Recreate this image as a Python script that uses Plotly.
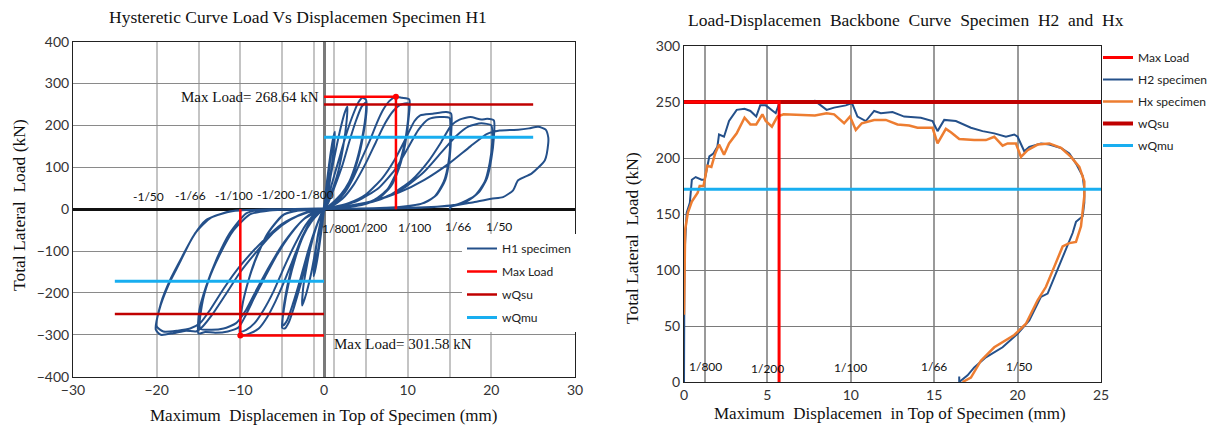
import plotly.graph_objects as go

# ---------------- H1 hysteretic data (displacement mm, load kN) -------------
lvl1_x = [0, 0.2, 0.5, 0.8, 1.1, 1.3, 1.2, 0.9, 0.5, 0.2, 0, -0.2, -0.5, -0.8, -1.1, -1.25, -1.1, -0.8, -0.4, -0.1,
          0.1, 0.4, 0.7, 1.0, 1.25, 1.15, 0.8, 0.4, 0.1, -0.2, -0.5, -0.9, -1.2, -1.1, -0.7, -0.3, 0]
lvl1_y = [0, 40, 90, 135, 170, 185, 150, 100, 45, 10, -5, -35, -80, -120, -150, -160, -120, -70, -30, -5,
          20, 60, 110, 150, 175, 140, 80, 30, 5, -25, -70, -120, -150, -110, -60, -20, 0]

lvl2_x = [0.3, 0.8, 1.4, 2.0, 2.5, 2.8, 2.7, 2.3, 1.7, 1.0, 0.4, 0, -0.4, -0.9, -1.5, -2.1, -2.6, -2.5, -2.0, -1.4,
          -0.8, -0.3, 0]
lvl2_y = [25, 80, 140, 195, 232, 245, 210, 150, 90, 45, 15, 0, -30, -85, -150, -200, -230, -190, -130, -75,
          -35, -10, 5]

lvl3_x = [0.4, 1.0, 1.8, 2.6, 3.4, 4.1, 4.6, 5.0, 5.1, 4.8, 4.2, 3.4, 2.4, 1.4, 0.6, 0, -0.5, -1.2, -2.0, -2.8,
          -3.6, -4.2, -4.7, -5.0, -4.8, -4.2, -3.4, -2.5, -1.5, -0.6, 0,
          0.5, 1.3, 2.2, 3.0, 3.8, 4.5, 5.0, 5.0, 4.6, 3.9, 3.0, 2.0, 1.0, 0.3, -0.3, -1.0, -1.9, -2.8, -3.7,
          -4.4, -4.9, -4.9, -4.4, -3.6, -2.6, -1.5, -0.6, 0]
lvl3_y = [20, 65, 120, 175, 222, 255, 266, 262, 240, 190, 130, 80, 45, 22, 8, 0, -20, -60, -120, -180,
          -235, -270, -285, -283, -240, -175, -115, -65, -30, -10, 0,
          15, 55, 105, 160, 210, 245, 255, 230, 175, 115, 65, 35, 15, 3, -12, -45, -100, -165, -225,
          -265, -278, -250, -185, -120, -65, -28, -8, 0]

lvl4_x = [0.5, 1.5, 2.5, 3.5, 4.5, 5.5, 6.3, 7.0, 7.8, 8.6, 9.3, 10.2,
          10.1, 9.7, 9.0, 8.0, 6.5, 4.5, 2.0, 0.0,
          -0.8, -1.8, -2.8, -3.8, -4.8, -5.8, -6.8, -7.8, -8.8, -10.0,
          -9.9, -9.3, -8.3, -6.8, -5.0, -3.5, 0.0,
          0.8, 2.2, 3.6, 5.0, 6.2, 7.3, 8.3, 9.2, 10.1,
          10.0, 9.5, 8.7, 7.6, 6.0, 4.0, 1.5, 0.0,
          -1.0, -2.2, -3.5, -4.8, -6.0, -7.2, -8.3, -9.3, -10.0,
          -9.8, -9.1, -8.0, -6.5, -4.8, -3.0, 0.0]
lvl4_y = [6, 18, 40, 75, 120, 165, 205, 235, 258, 268.64, 266, 262,
          215, 155, 100, 55, 25, 10, 3, 0,
          -10, -35, -75, -125, -175, -220, -258, -285, -296, -301.58,
          -245, -190, -125, -60, -15, -4, 0,
          6, 25, 60, 110, 160, 205, 235, 250, 252,
          205, 145, 90, 48, 22, 8, 2, 0,
          -10, -38, -85, -140, -195, -240, -272, -288, -292,
          -235, -175, -112, -52, -13, -3, 0]

lvl5_x = [0.0, 1.0, 3.0, 5.0, 7.0, 8.5, 9.8, 10.8, 11.5, 13.0, 14.6, 15.2,
          15.2, 15.0, 14.5, 13.5, 12.0, 9.0, 4.0, 0.0,
          -1.0, -2.5, -4.0, -5.5, -7.0, -8.3, -9.4, -10.2, -11.5, -13.0, -14.2, -15.0,
          -14.9, -14.1, -12.9, -11.3, -9.3, -7.7, -4.0, 0.0,
          1.5, 4.0, 6.5, 8.5, 10.0, 11.3, 12.5, 13.8, 15.0,
          15.1, 14.9, 14.3, 13.2, 11.5, 8.0, 3.0, 0.0,
          -1.5, -3.0, -4.8, -6.5, -8.0, -9.3, -10.5, -12.0, -13.5, -14.8,
          -14.6, -13.8, -12.5, -10.8, -8.8, -6.5, -3.0, 0.0]
lvl5_y = [2, 5, 15, 35, 75, 120, 170, 210, 224, 228, 232, 228,
          180, 120, 70, 35, 15, 5, 1, 0,
          -8, -25, -60, -105, -160, -210, -255, -282, -292, -295, -293, -297,
          -241, -185, -122, -58, -10, -2, 0, 2,
          5, 20, 50, 95, 145, 190, 215, 220, 218,
          175, 115, 65, 30, 12, 4, 1, 0,
          -10, -35, -80, -135, -190, -240, -272, -285, -288, -285,
          -230, -170, -110, -50, -12, -3, 0, 2]

lvl6_x = [2.0, 5.0, 8.0, 10.5, 12.5, 14.0, 15.2, 16.2, 17.5, 18.8, 19.5, 20.3,
          20.3, 20.0, 19.5, 18.5, 17.0, 15.0, 10.0, 5.0, 0.0,
          -2.0, -4.0, -6.0, -8.0, -10.0, -11.8, -13.3, -14.5, -15.3, -16.5, -18.0, -19.5, -20.1,
          -19.7, -18.5, -17.3, -15.7, -14.1, -11.7, -10.5, -5.0, 0.0,
          3.0, 6.5, 9.5, 12.0, 14.0, 15.8, 17.3, 18.8, 20.0,
          20.1, 19.8, 19.2, 18.0, 16.0, 12.0, 6.0, 0.0,
          -2.5, -5.0, -7.5, -10.0, -12.0, -13.6, -14.8, -16.0, -17.5, -19.2, -20.0,
          -19.5, -18.3, -17.0, -15.3, -13.5, -11.0, -6.0, 0.0]
lvl6_y = [5, 15, 35, 70, 115, 160, 200, 214, 220, 214, 216, 212,
          170, 120, 75, 40, 18, 8, 3, 1, 0,
          -8, -25, -55, -100, -150, -205, -250, -280, -292, -290, -296, -300, -288,
          -241, -177, -130, -67, -26, -7, -3, 0, 2,
          6, 22, 50, 90, 135, 175, 198, 205, 200,
          160, 110, 65, 32, 12, 4, 1, 0,
          -10, -35, -80, -135, -190, -240, -272, -285, -290, -292, -280,
          -225, -165, -115, -55, -20, -5, 0, 2]

lvl7_x = [3.0, 6.0, 9.0, 12.0, 15.0, 17.5, 19.5, 21.0, 23.2, 24.5, 25.6, 26.5, 26.8, 26.8, 26.4, 24.8, 23.2,
          22.6, 21.4, 20.0, 18.0, 15.2, 15.0]
lvl7_y = [8, 20, 40, 70, 110, 150, 180, 188, 190, 193, 197, 190, 172, 157, 117, 85, 69,
          45, 29, 25, 17, 6, 0]

# ---------------- H2 / Hx backbone data ----------------
h2_x = [0, 0.0, 0.02, 0.05, 0.16, 0.35, 0.47, 0.7, 1.05, 1.24, 1.52, 1.76, 2.0, 2.1, 2.4, 2.7, 3.16, 3.63, 3.98,
        4.33, 4.57, 4.9, 5.27, 5.5, 5.74, 6.67, 7.85, 8.55, 9.0, 9.7, 10.07, 10.4, 10.9, 11.4, 11.8, 12.5,
        13.2, 14.2, 14.9, 15.2, 15.6, 16.3, 17.2, 17.9, 18.6, 19.3, 19.8, 20.0, 20.4, 20.7, 21.4, 21.9, 22.6,
        23.1, 23.5, 23.9, 24.0, 24.0, 23.9, 23.5, 23.3, 22.8, 22.2, 21.8, 21.4, 20.7, 20.0, 19.1, 18.1, 17.4,
        17.0, 16.5, 16.5]
h2_y = [0, 40, 80, 120, 151, 160, 180.6, 183, 180.6, 180.6, 201.5, 204, 210, 221, 219, 233, 243, 244, 242,
        237, 247, 247, 243, 240, 250, 249, 251, 243, 245, 247, 249, 237, 233, 242, 240, 241,
        237, 236, 233, 224, 234, 233, 227, 224, 222, 219, 221, 219, 206, 210, 213, 212, 209,
        204, 195, 184, 172, 160, 148, 143, 133, 115, 94, 79, 76, 55, 43, 31, 22, 13,
        6, 0, 5]

hx_x = [0.0, 0.02, 0.07, 0.23, 0.47, 0.82, 0.94, 1.17, 1.4, 1.64, 1.87, 2.1, 2.4, 2.7, 3.16, 3.63, 3.98, 4.33,
        4.7, 4.9, 5.27, 5.6, 5.97, 7.85, 8.55, 9.0, 9.6, 9.95, 10.3, 10.66, 11.4, 12.1, 12.8, 13.5, 14.0,
        14.9, 15.2, 15.7, 16.0, 16.5, 17.4, 18.1, 18.6, 19.1, 19.4, 19.9, 20.2, 20.6, 21.2, 21.9, 22.6, 23.2,
        23.7, 24.0, 24.0, 23.8, 23.5, 23.1, 22.7, 22.2, 21.7, 21.2, 20.5, 19.8, 18.6, 17.8, 17.2, 16.7]
hx_y = [60, 110, 136, 151, 161, 169, 175, 175, 193, 192, 204, 212, 203, 213, 222, 236, 230, 230,
        239, 233, 228, 237, 239, 238, 240, 239, 231, 237, 225, 231, 234, 234, 230, 229, 227,
        227, 213, 226, 223, 217, 216, 216, 219, 211, 213, 213, 201, 207, 212, 213, 209, 201,
        192, 179, 166, 139, 125, 124, 121, 103, 85, 73, 52, 42, 31, 19, 4, 0]

# ---------------- reference levels ----------------
max_pos = [8.6, 268.64]
max_neg = [-10.0, -301.58]
wqsu = 250
wqmu = 172
max2_x = 5.7
max2_y = 250
drift_lbl_neg = ["-1/50", "-1/66", "-1/100", "-1/200", "-1/800"]
drift_neg_x = [-21.0, -15.9, -10.8, -5.7, -1.1]
drift_neg_y = [31, 33, 33, 36, 36]
drift_lbl_pos = ["1/800", "1/200", "1/100", "1/66", "1/50"]
drift_pos_x = [1.7, 5.6, 10.8, 16.0, 20.9]
drift_pos_y = [-45, -43, -43, -41, -41]
drift2_x = [1.26, 5.0, 10.0, 15.0, 20.1]
drift2_y = [14, 12, 13, 14, 14]
drift_grid = [-20, -15, -10, -5, -1.25, 1.25, 5, 10, 15, 20]
drift_grid2 = [1.25, 5, 10, 15, 20]

SERIF = "Liberation Serif"
SANS = "Lato"
BLUE = "#24508a"
RED = "#ff0000"
DRED = "#c00000"
LBLUE = "#18aef0"
ORANGE = "#ed7d31"

h1_x = lvl1_x + lvl2_x + lvl3_x + lvl4_x + lvl5_x + lvl6_x + lvl7_x
h1_y = lvl1_y + lvl2_y + lvl3_y + lvl4_y + lvl5_y + lvl6_y + lvl7_y

fig = go.Figure()

# ---- left chart ----
fig.add_trace(go.Scatter(x=h1_x, y=h1_y, mode="lines", name="H1 specimen",
                         line=dict(color=BLUE, width=2, shape="spline", smoothing=0.6),
                         xaxis="x", yaxis="y", legend="legend", legendgroup="a1"))
fig.add_trace(go.Scatter(x=[0, max_pos[0], max_pos[0], None, 0, max_neg[0], max_neg[0]],
                         y=[max_pos[1], max_pos[1], 0, None, max_neg[1], max_neg[1], 0],
                         mode="lines", name="Max Load", line=dict(color=RED, width=2.5),
                         xaxis="x", yaxis="y", legend="legend", legendgroup="a2"))
fig.add_trace(go.Scatter(x=[max_pos[0], max_neg[0]], y=[max_pos[1], max_neg[1]], mode="markers",
                         marker=dict(color=RED, size=6), showlegend=False, xaxis="x", yaxis="y"))
fig.add_trace(go.Scatter(x=[0, 25, None, -25, 0], y=[wqsu, wqsu, None, -wqsu, -wqsu], mode="lines", name="wQsu",
                         line=dict(color=DRED, width=2.5), xaxis="x", yaxis="y", legend="legend", legendgroup="a3"))
fig.add_trace(go.Scatter(x=[0, 25, None, -25, 0], y=[wqmu, wqmu, None, -wqmu, -wqmu], mode="lines", name="wQmu",
                         line=dict(color=LBLUE, width=3), xaxis="x", yaxis="y", legend="legend", legendgroup="a4"))

# ---- right chart ----
fig.add_trace(go.Scatter(x=h2_x, y=h2_y, mode="lines", name="H2 specimen", line=dict(color=BLUE, width=2),
                         xaxis="x2", yaxis="y2", legend="legend2", legendgroup="b2", legendrank=2))
fig.add_trace(go.Scatter(x=hx_x, y=hx_y, mode="lines", name="Hx specimen", line=dict(color=ORANGE, width=2.5),
                         xaxis="x2", yaxis="y2", legend="legend2", legendgroup="b3", legendrank=3))
fig.add_trace(go.Scatter(x=[0, 25], y=[wqsu, wqsu], mode="lines", name="wQsu", line=dict(color=DRED, width=4),
                         xaxis="x2", yaxis="y2", legend="legend2", legendgroup="b4", legendrank=4))
fig.add_trace(go.Scatter(x=[0, 25], y=[wqmu, wqmu], mode="lines", name="wQmu", line=dict(color=LBLUE, width=3),
                         xaxis="x2", yaxis="y2", legend="legend2", legendgroup="b5", legendrank=5))
fig.add_trace(go.Scatter(x=[0, max2_x, max2_x], y=[max2_y, max2_y, 0], mode="lines", name="Max Load",
                         line=dict(color=RED, width=3), xaxis="x2", yaxis="y2", legend="legend2",
                         legendgroup="b1", legendrank=1))

# page has an 8px body margin, so screen px = figure px + 8
OFF = 8
W, H = 1207, 426
def px(v): return (v - OFF) / W
def py(v): return 1 - (v - OFF) / H

tickfont = dict(family=SANS, size=14, color="#333")
axis_common = dict(showline=True, mirror=True, linecolor="#222", linewidth=1, ticks="",
                   tickfont=tickfont, automargin=False)

fig.update_layout(
    width=W, height=H, margin=dict(l=0, r=0, t=0, b=0, autoexpand=False),
    paper_bgcolor="white", plot_bgcolor="white", showlegend=True,
    xaxis=dict(domain=[px(73), px(575)], range=[-30, 30], tickvals=[-30, -20, -10, 0, 10, 20, 30],
               showgrid=False, zeroline=True, zerolinecolor="#7a7a7a", zerolinewidth=2.5,
               minor=dict(tickvals=drift_grid, showgrid=True, gridcolor="#c4c4c4", gridwidth=2, ticks=""),
               anchor="y", **axis_common),
    yaxis=dict(domain=[py(376.7), py(41.7)], range=[-400, 400], dtick=100, showgrid=True,
               gridcolor="#8a8a8a", gridwidth=1, zeroline=True, zerolinecolor="#111", zerolinewidth=2.5,
               anchor="x", **axis_common),
    xaxis2=dict(domain=[px(684), px(1101)], range=[0, 25], tickvals=[0, 5, 10, 15, 20, 25],
                showgrid=False, zeroline=True, zerolinecolor="#555", zerolinewidth=2.5,
                minor=dict(tickvals=drift_grid2, showgrid=True, gridcolor="#9a9a9a", gridwidth=1.5, ticks=""),
                anchor="y2", **axis_common),
    yaxis2=dict(domain=[py(382), py(46)], range=[0, 300], dtick=50, showgrid=True,
                gridcolor="#7a7a7a", gridwidth=1, zeroline=True, zerolinecolor="#111", zerolinewidth=3,
                anchor="x2", **axis_common),
    legend=dict(x=px(462), y=py(234), xanchor="left", yanchor="top", bgcolor="white",
                font=dict(family=SANS, size=12, color="#222"), traceorder="grouped", tracegroupgap=4,
                itemwidth=30),
    legend2=dict(x=px(1098), y=py(43), xanchor="left", yanchor="top", bgcolor="rgba(0,0,0,0)",
                 font=dict(family=SANS, size=12, color="#222"), traceorder="grouped", tracegroupgap=3,
                 itemwidth=30),
)

ann = []
def paper_text(t, x, y, size, angle=0):
    return dict(text=t, x=px(x), y=py(y), xref="paper", yref="paper", xanchor="center", yanchor="middle",
                textangle=angle, showarrow=False, font=dict(family=SERIF, size=size, color="#111"))

ann.append(paper_text("Hysteretic Curve Load Vs Displacemen Specimen H1", 298, 17, 17.5))
ann.append(paper_text("Load-Displacemen&nbsp; Backbone&nbsp; Curve&nbsp; Specimen&nbsp; H2&nbsp; and&nbsp; Hx", 906, 20, 17.5))
ann.append(paper_text("Maximum&nbsp; Displacemen in Top of Specimen (mm)", 324, 415, 17))
ann.append(paper_text("Maximum&nbsp; Displacemen&nbsp; in Top of Specimen (mm)", 890, 413, 17))
ann.append(paper_text("Total Lateral&nbsp; Load (kN)", 19, 205, 17.5, -90))
ann.append(paper_text("Total Lateral&nbsp; Load (kN)", 632, 238, 17.5, -90))
ann.append(dict(text="Max Load= %.2f kN" % max_pos[1], x=-0.3, y=max_pos[1], xref="x", yref="y", xanchor="right",
                yanchor="middle", showarrow=False, font=dict(family=SERIF, size=15, color="#111")))
ann.append(dict(text="Max Load= %.2f kN" % abs(max_neg[1]), x=1.0, y=-322, xref="x", yref="y", xanchor="left",
                yanchor="middle", showarrow=False, font=dict(family=SERIF, size=15, color="#111")))
for t, xv, yv in zip(drift_lbl_neg, drift_neg_x, drift_neg_y):
    ann.append(dict(text=t, x=xv, y=yv, xref="x", yref="y", showarrow=False, font=dict(family=SANS, size=12, color="#111")))
for t, xv, yv in zip(drift_lbl_pos, drift_pos_x, drift_pos_y):
    ann.append(dict(text=t, x=xv, y=yv, xref="x", yref="y", showarrow=False, font=dict(family=SANS, size=12, color="#111")))
for t, xv, yv in zip(drift_lbl_pos, drift2_x, drift2_y):
    ann.append(dict(text=t, x=xv, y=yv, xref="x2", yref="y2", showarrow=False, font=dict(family=SANS, size=12, color="#111")))
fig.update_layout(annotations=ann)

fig.write_html("out.html")
